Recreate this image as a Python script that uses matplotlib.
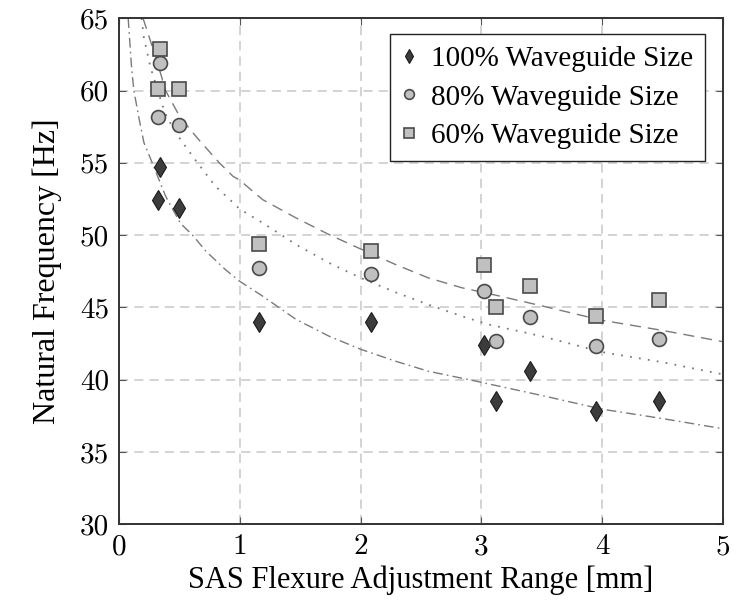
import numpy as np
import matplotlib
matplotlib.use("Agg")
import matplotlib.pyplot as plt

# ── Data ────────────────────────────────────────────────────────────
x_pts = [0.32, 0.34, 0.50, 1.16, 2.09, 3.02, 3.12, 3.40, 3.95, 4.47]

freq_100 = [52.4, 54.7, 51.9, 44.0, 44.0, 42.4, 38.5, 40.6, 37.8, 38.5]
freq_80 = [58.2, 61.9, 57.6, 47.7, 47.3, 46.1, 42.7, 44.3, 42.3, 42.8]
freq_60 = [60.1, 62.9, 60.1, 49.4, 48.9, 47.9, 45.0, 46.5, 44.4, 45.5]

# trend curves
fit100_x = [0.077, 0.105, 0.124, 0.166, 0.207, 0.276, 0.386, 0.51, 0.61, 0.718,
            0.883, 1.0, 1.19, 1.467, 1.74, 2.0, 2.29, 2.56, 2.95, 3.5,
            4.0, 4.5, 5.0]
fit100_y = [65.0, 61.6, 60.0, 58.1, 56.4, 55.0, 52.7, 50.8, 50.0, 48.9,
            47.6, 46.8, 45.77, 44.16, 43.0, 42.1, 41.27, 40.58, 39.9, 38.9,
            37.95, 37.3, 36.6]

fit80_x = [0.188, 0.207, 0.262, 0.358, 0.40, 0.51, 0.65, 0.80, 0.918, 1.0,
           1.19, 1.467, 1.74, 2.0, 2.29, 2.56, 2.84, 3.06, 3.5, 4.0,
           4.5, 5.0]
fit80_y = [65.0, 63.65, 61.6, 59.04, 58.1, 56.6, 55.0, 53.37, 52.45, 51.8,
           50.84, 49.34, 48.07, 47.04, 46.04, 45.19, 44.38, 43.81, 43.0, 41.9,
           41.2, 40.36]

fit60_x = [0.20, 0.317, 0.386, 0.51, 0.666, 0.831, 0.945, 1.0, 1.19, 1.467,
           1.74, 2.0, 2.29, 2.56, 2.84, 3.14, 3.5, 4.0, 4.5, 5.0]
fit60_y = [65.0, 62.0, 60.0, 58.1, 56.55, 55.0, 54.06, 53.8, 52.45, 51.18,
           50.03, 49.04, 47.96, 47.04, 46.35, 45.8, 45.1, 44.1, 43.4, 42.62]

labels = ["100% Waveguide Size", "80% Waveguide Size", "60% Waveguide Size"]
x_ticks = [0, 1, 2, 3, 4, 5]
y_ticks = [30, 35, 40, 45, 50, 55, 60, 65]

# ── Figure ─────────────────────────────────────────────────────────
plt.rcParams["font.family"] = ["Liberation Serif", "DejaVu Serif"]

fig = plt.figure(figsize=(7.43, 6.08), dpi=100)
ax = fig.add_axes([0.160, 0.138, 0.813, 0.832])

line_col = "#7a7a7a"
ax.plot(fit100_x, fit100_y, color=line_col, lw=1.0, dashes=(7, 3, 1.2, 3), zorder=2)
ax.plot(fit80_x, fit80_y, color=line_col, lw=1.3, dashes=(1, 4), zorder=2)
ax.plot(fit60_x, fit60_y, color=line_col, lw=1.0, dashes=(8, 5), zorder=2)

ax.plot(x_pts, freq_100, ls="none", marker="d", ms=10.5, mfc="#3c3c3c",
        mec="#1a1a1a", mew=0.8, label=labels[0], zorder=3)
ax.plot(x_pts, freq_80, ls="none", marker="o", ms=10, mfc="#c0c0c0",
        mec="#4a4a4a", mew=1.2, label=labels[1], zorder=3)
ax.plot(x_pts, freq_60, ls="none", marker="s", ms=10, mfc="#c0c0c0",
        mec="#4a4a4a", mew=1.2, label=labels[2], zorder=3)

ax.set_xlim(0, 5)
ax.set_ylim(30, 65)
ax.set_xticks(x_ticks)
ax.set_yticks(y_ticks)
ax.set_xticklabels([str(v) for v in x_ticks], fontfamily="cmr10", fontsize=21)
ax.set_yticklabels([str(v) for v in y_ticks], fontfamily="cmr10", fontsize=21)
ax.tick_params(direction="in", top=True, right=True, length=5, width=0.8,
               color="#555555", pad=7)

ax.grid(True, color="#c8c8c8", ls=(0, (6, 4)), lw=1.1)
ax.set_axisbelow(True)
for s in ax.spines.values():
    s.set_color("#333333")
    s.set_linewidth(1.4)

ax.set_xlabel("SAS Flexure Adjustment Range [mm]", fontsize=22, labelpad=4)
ax.set_ylabel("Natural Frequency [Hz]", fontsize=23, labelpad=13)

leg = ax.legend(loc="upper right", bbox_to_anchor=(0.970, 0.969), fontsize=21,
                markerscale=0.7, handlelength=0.5, handletextpad=0.5,
                borderpad=0.4, labelspacing=0.42, borderaxespad=0,
                fancybox=False, framealpha=1)
leg.get_frame().set_edgecolor("#222222")
leg.get_frame().set_linewidth(1.0)

fig.savefig("out.png", dpi=100)
